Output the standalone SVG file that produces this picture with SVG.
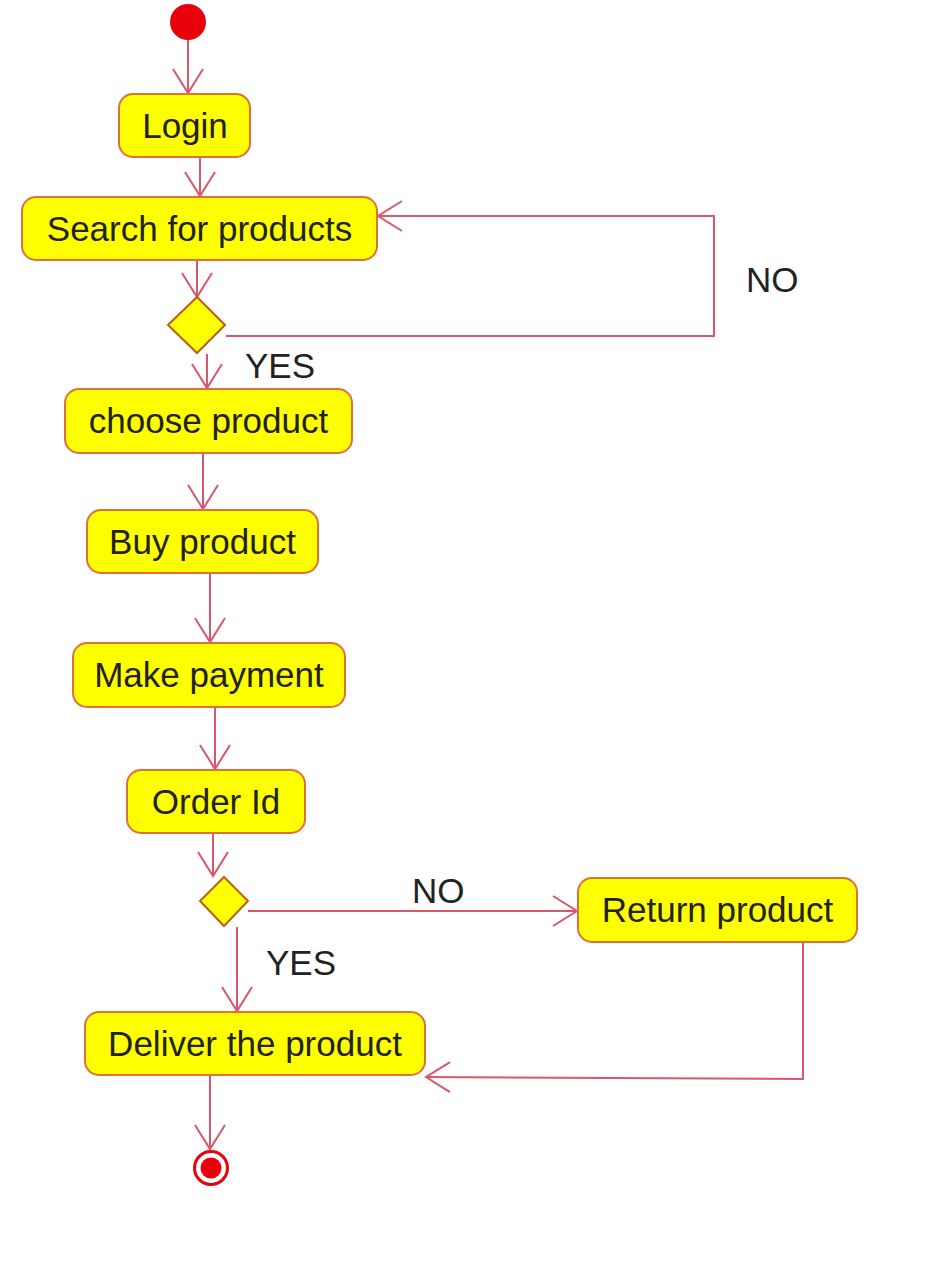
<svg xmlns="http://www.w3.org/2000/svg" width="930" height="1261" viewBox="0 0 930 1261">
<defs>
<style>
.box{fill:#FFFF00;stroke:#E0703A;stroke-width:2}
.dia{fill:#FFFF00;stroke:#B8601A;stroke-width:2}
.t{font-family:"Liberation Sans",Arial,sans-serif;font-size:35px;fill:#222;text-anchor:middle}
.lbl{font-family:"Liberation Sans",Arial,sans-serif;font-size:35px;fill:#222}
.c{fill:none;stroke:#D9576A;stroke-width:2;marker-end:url(#arr)}
</style>
<marker id="arr" markerUnits="userSpaceOnUse" markerWidth="30" markerHeight="34" viewBox="-26 -17 30 34" refX="0" refY="0" orient="auto">
<path d="M-24,-15 L0,0 L-24,15" fill="none" stroke="#D9576A" stroke-width="2"/>
</marker>
</defs>
<rect width="930" height="1261" fill="#ffffff"/>
<g id="connectors">
<path class="c" d="M188,40 L188,93"/>
<path class="c" d="M200,157 L200,196"/>
<path class="c" d="M197,260 L197,297"/>
<path class="c" d="M226,336 L714,336 L714,216 L378,216"/>
<path class="c" d="M207,354 L207,388"/>
<path class="c" d="M203,453 L203,509"/>
<path class="c" d="M210,573 L210,642"/>
<path class="c" d="M215,707 L215,769"/>
<path class="c" d="M213,833 L213,876"/>
<path class="c" d="M248,911 L577,911"/>
<path class="c" d="M237,927 L237,1011"/>
<path class="c" d="M803,942 L803,1079 L426,1077"/>
<path class="c" d="M210,1075 L210,1149"/>
</g>
<g id="start"><circle cx="188" cy="22" r="18" fill="#E8000B"/></g>
<g id="login"><rect class="box" x="119" y="94" width="131" height="63" rx="14"/><text class="t" x="185" y="138">Login</text></g>
<g id="search"><rect class="box" x="22" y="197" width="355" height="63" rx="14"/><text class="t" x="199.5" y="241">Search for products</text></g>
<g id="decision1"><polygon class="dia" points="197,297 225,325 197,353 168,325"/></g>
<g id="choose"><rect class="box" x="65" y="389" width="287" height="64" rx="14"/><text class="t" x="208.5" y="433">choose product</text></g>
<g id="buy"><rect class="box" x="87" y="510" width="231" height="63" rx="14"/><text class="t" x="202.5" y="554">Buy product</text></g>
<g id="payment"><rect class="box" x="73" y="643" width="272" height="64" rx="14"/><text class="t" x="209" y="687">Make payment</text></g>
<g id="order"><rect class="box" x="127" y="770" width="178" height="63" rx="14"/><text class="t" x="216" y="814">Order Id</text></g>
<g id="decision2"><polygon class="dia" points="224,877 248,901 224,926 200,901"/></g>
<g id="return"><rect class="box" x="578" y="878" width="279" height="64" rx="14"/><text class="t" x="717.5" y="922">Return product</text></g>
<g id="deliver"><rect class="box" x="85" y="1012" width="340" height="63" rx="14"/><text class="t" x="255" y="1056">Deliver the product</text></g>
<g id="end"><circle cx="211" cy="1168" r="16.5" fill="#ffffff" stroke="#E8000B" stroke-width="3"/><circle cx="211" cy="1168" r="10.5" fill="#E8000B"/></g>
<g id="labels">
<text class="lbl" x="746" y="292">NO</text>
<text class="lbl" x="245" y="378">YES</text>
<text class="lbl" x="412" y="903">NO</text>
<text class="lbl" x="266" y="975">YES</text>
</g>
</svg>
